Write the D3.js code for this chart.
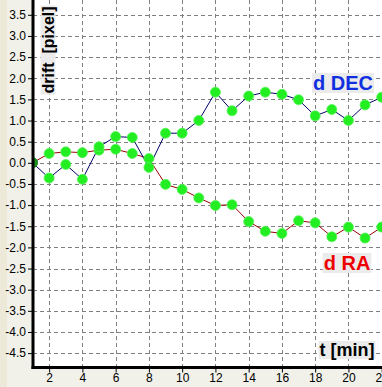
<!DOCTYPE html>
<html><head><meta charset="utf-8">
<script src="https://cdn.jsdelivr.net/npm/d3@7"></script>
<style>html,body{margin:0;padding:0;background:#F1F0E9;overflow:hidden}</style>
</head><body>
<svg id="c" width="382" height="387"></svg>
<script>
const times = d3.range(1, 23);
const decValues = [0.0, -0.36, -0.04, -0.39, 0.38, 0.62, 0.60, -0.11, 0.70, 0.70, 1.00, 1.67, 1.23, 1.58, 1.67, 1.62, 1.49, 1.11, 1.26, 1.00, 1.37, 1.55];
const raValues  = [0.0, 0.22, 0.26, 0.24, 0.30, 0.32, 0.22, 0.10, -0.51, -0.63, -0.83, -1.01, -0.99, -1.39, -1.62, -1.67, -1.37, -1.42, -1.75, -1.52, -1.78, -1.52];
const xTicks = [2,4,6,8,10,12,14,16,18,20,22];
const yTicks = [-4.5,-4.0,-3.5,-3.0,-2.5,-2.0,-1.5,-1.0,-0.5,0.0,0.5,1.0,1.5,2.0,2.5,3.0,3.5];

const svg = d3.select("#c");
const W = 382, H = 387;
const x = d3.scaleLinear().domain([1, 22]).range([32.5, 381.7]);
const y = d3.scaleLinear().domain([-4.84, 3.85]).range([367.5, 0]);
const x0 = 33, yAx = 367.5;

svg.append("rect").attr("width", W).attr("height", H).attr("fill", "#F1F0E9");
svg.append("rect").attr("x", 0).attr("y", 0).attr("width", 7).attr("height", H).attr("fill", "#ECE9D8");
svg.append("rect").attr("x", x0).attr("y", 0).attr("width", W - x0).attr("height", yAx).attr("fill", "#ffffff");

const clip = svg.append("clipPath").attr("id", "pc").append("rect")
  .attr("x", x0 + 1).attr("y", 0).attr("width", W).attr("height", yAx - 1);

// grid
const g = svg.append("g");
g.selectAll(".vg").data(xTicks).join("line")
  .attr("x1", d => Math.round(x(d)) + 0.5).attr("x2", d => Math.round(x(d)) + 0.5)
  .attr("y1", 0).attr("y2", yAx)
  .attr("stroke", "#808080").attr("stroke-width", 1).attr("stroke-dasharray", "4,3");
g.selectAll(".hg").data(yTicks).join("line")
  .attr("y1", d => Math.round(y(d)) + 0.5).attr("y2", d => Math.round(y(d)) + 0.5)
  .attr("x1", x0).attr("x2", W)
  .attr("stroke", "#808080").attr("stroke-width", 1).attr("stroke-dasharray", "4,3");

// axes via d3
const yAxis = d3.axisLeft(y).tickValues(yTicks).tickFormat(d3.format(".1f")).tickSize(5).tickPadding(2);
const ya = svg.append("g").attr("transform", `translate(${x0},0)`).call(yAxis);
ya.select(".domain").remove();
ya.selectAll("line").attr("stroke", "#000");
ya.selectAll("text").attr("font-family", "Liberation Sans, Arial, sans-serif").attr("font-size", 12).attr("fill", "#000")
  .text(d => d3.format(".1f")(d).replace("−", "-"));

const xAxis = d3.axisBottom(x).tickValues(xTicks).tickFormat(d3.format("d")).tickSize(5).tickPadding(1);
const xa = svg.append("g").attr("transform", `translate(0,${yAx})`).call(xAxis);
xa.select(".domain").remove();
xa.selectAll("line").attr("stroke", "#000");
xa.selectAll("text").attr("font-family", "Liberation Sans, Arial, sans-serif").attr("font-size", 12).attr("fill", "#000");

// series
const plot = svg.append("g").attr("clip-path", "url(#pc)");
const line = d3.line().x((d, i) => x(times[i])).y(d => y(d));
plot.append("path").datum(raValues).attr("d", line).attr("fill", "none").attr("stroke", "#990000").attr("stroke-width", 1);
plot.append("path").datum(decValues).attr("d", line).attr("fill", "none").attr("stroke", "#000066").attr("stroke-width", 1);
[raValues, decValues].forEach(vals => {
  plot.selectAll(null).data(vals).join("circle")
    .attr("cx", (d, i) => x(times[i])).attr("cy", d => y(d)).attr("r", 5)
    .attr("fill", (d, i) => i === 0 ? "#1f8f1f" : "#22ee22")
    .attr("stroke", (d, i) => i === 0 ? "#1f8f1f" : "#55f555").attr("stroke-width", 0.8);
});

// axis lines
svg.append("line").attr("x1", x0).attr("x2", x0).attr("y1", 0).attr("y2", yAx + 1.5).attr("stroke", "#000").attr("stroke-width", 3);
svg.append("line").attr("x1", x0 - 1.5).attr("x2", W).attr("y1", yAx).attr("y2", yAx).attr("stroke", "#000").attr("stroke-width", 3);

// labels with background boxes
function label(txt, cx, cy, size, color, rot) {
  const gg = svg.append("g").attr("transform", `translate(${cx},${cy}) rotate(${rot || 0})`);
  const r = gg.append("rect").attr("fill", "#EBEBEB");
  const t = gg.append("text").attr("text-anchor", "middle").attr("dominant-baseline", "central")
    .attr("font-family", "Liberation Sans, Arial, sans-serif").attr("font-weight", "bold")
    .attr("font-size", size).attr("fill", color).attr("xml:space", "preserve").text(txt);
  const b = t.node().getBBox();
  r.attr("x", b.x - 1).attr("y", b.y + 1).attr("width", b.width + 2).attr("height", b.height - 2);
}
label("drift  [pixel]", 48, 50, 16, "#000", -90);
label("d DEC", 343, 83, 20, "#1030E0");
label("d RA", 347, 263, 20, "#EE0000");
label("t [min]", 347, 350, 18, "#000");
</script>
</body></html>
